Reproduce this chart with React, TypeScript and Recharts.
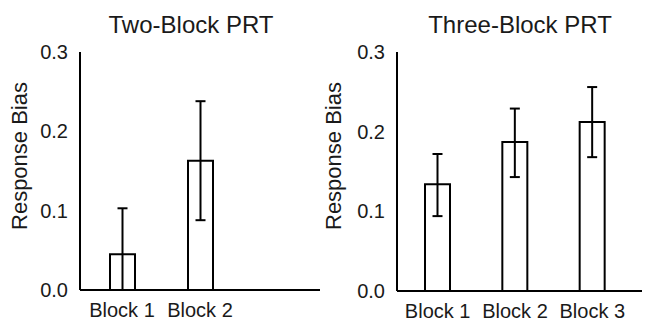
import React from 'react';
import { BarChart, Bar, XAxis, YAxis, ErrorBar } from 'recharts';

const twoBlockCategories = ['Block 1', 'Block 2'];
const twoBlockMeans = [0.045, 0.163];
const twoBlockErrLow = [0.045, 0.075];
const twoBlockErrHigh = [0.058, 0.075];

const threeBlockCategories = ['Block 1', 'Block 2', 'Block 3'];
const threeBlockMeans = [0.134, 0.187, 0.212];
const threeBlockErrLow = [0.04, 0.044, 0.044];
const threeBlockErrHigh = [0.038, 0.042, 0.044];

const yTicks = [0, 0.1, 0.2, 0.3];

const twoData = twoBlockCategories.map((b, i) => ({
  block: b,
  mean: twoBlockMeans[i],
  err: [twoBlockErrLow[i], twoBlockErrHigh[i]],
}));
const threeData = threeBlockCategories.map((b, i) => ({
  block: b,
  mean: threeBlockMeans[i],
  err: [threeBlockErrLow[i], threeBlockErrHigh[i]],
}));

const FONT = '"Liberation Sans", Arial, Helvetica, sans-serif';
const TXT = '#1a1a1a';

function Panel({ data, width, yWidth, margin, padding, xHeight }: any) {
  return (
    <BarChart width={width} height={322} data={data} margin={margin}>
      <XAxis
        dataKey="block"
        interval={0}
        tickLine={false}
        tickSize={0}
        tickMargin={13}
        height={xHeight}
        padding={padding}
        axisLine={{ stroke: '#000', strokeWidth: 2 }}
        tick={{ fill: TXT, fontSize: 20, fontFamily: FONT }}
      />
      <YAxis
        width={yWidth}
        domain={[0, 0.3]}
        ticks={yTicks}
        interval={0}
        tickFormatter={(v: number) => v.toFixed(1)}
        tickLine={false}
        tickSize={0}
        tickMargin={12}
        axisLine={{ stroke: '#000', strokeWidth: 2 }}
        tick={{ fill: TXT, fontSize: 20, fontFamily: FONT }}
      />
      <Bar dataKey="mean" fill="#fff" stroke="#000" strokeWidth={2} barSize={25} isAnimationActive={false}>
        <ErrorBar dataKey="err" width={5} stroke="#000" strokeWidth={2} />
      </Bar>
    </BarChart>
  );
}

export default function App() {
  return (
    <div style={{ position: 'absolute', left: 0, top: 0, width: 647, height: 322, background: '#fff', overflow: 'hidden' }}>
      <div style={{ position: 'absolute', left: 0, top: 0 }}>
        <Panel
          data={twoData}
          width={330}
          yWidth={80}
          margin={{ top: 52, right: 10, bottom: 0, left: 0 }}
          xHeight={32}
          padding={{ left: 3, right: 81 }}
        />
      </div>
      <div style={{ position: 'absolute', left: 320, top: 0 }}>
        <Panel
          data={threeData}
          width={327}
          yWidth={77}
          margin={{ top: 52, right: 5, bottom: 0, left: 0 }}
          xHeight={31}
          padding={{ left: 2, right: 11 }}
        />
      </div>
      <svg width={647} height={322} style={{ position: 'absolute', left: 0, top: 0, pointerEvents: 'none' }}>
        <g fontFamily={FONT} fill={TXT}>
          <text x={191} y={33} fontSize={24} textAnchor="middle">Two-Block PRT</text>
          <text x={520} y={33} fontSize={24} textAnchor="middle">Three-Block PRT</text>
          <text x={26.5} y={156} fontSize={22} textAnchor="middle" transform="rotate(-90 26.5 156)">Response Bias</text>
          <text x={341} y={156} fontSize={22} textAnchor="middle" transform="rotate(-90 341 156)">Response Bias</text>
        </g>
      </svg>
    </div>
  );
}
